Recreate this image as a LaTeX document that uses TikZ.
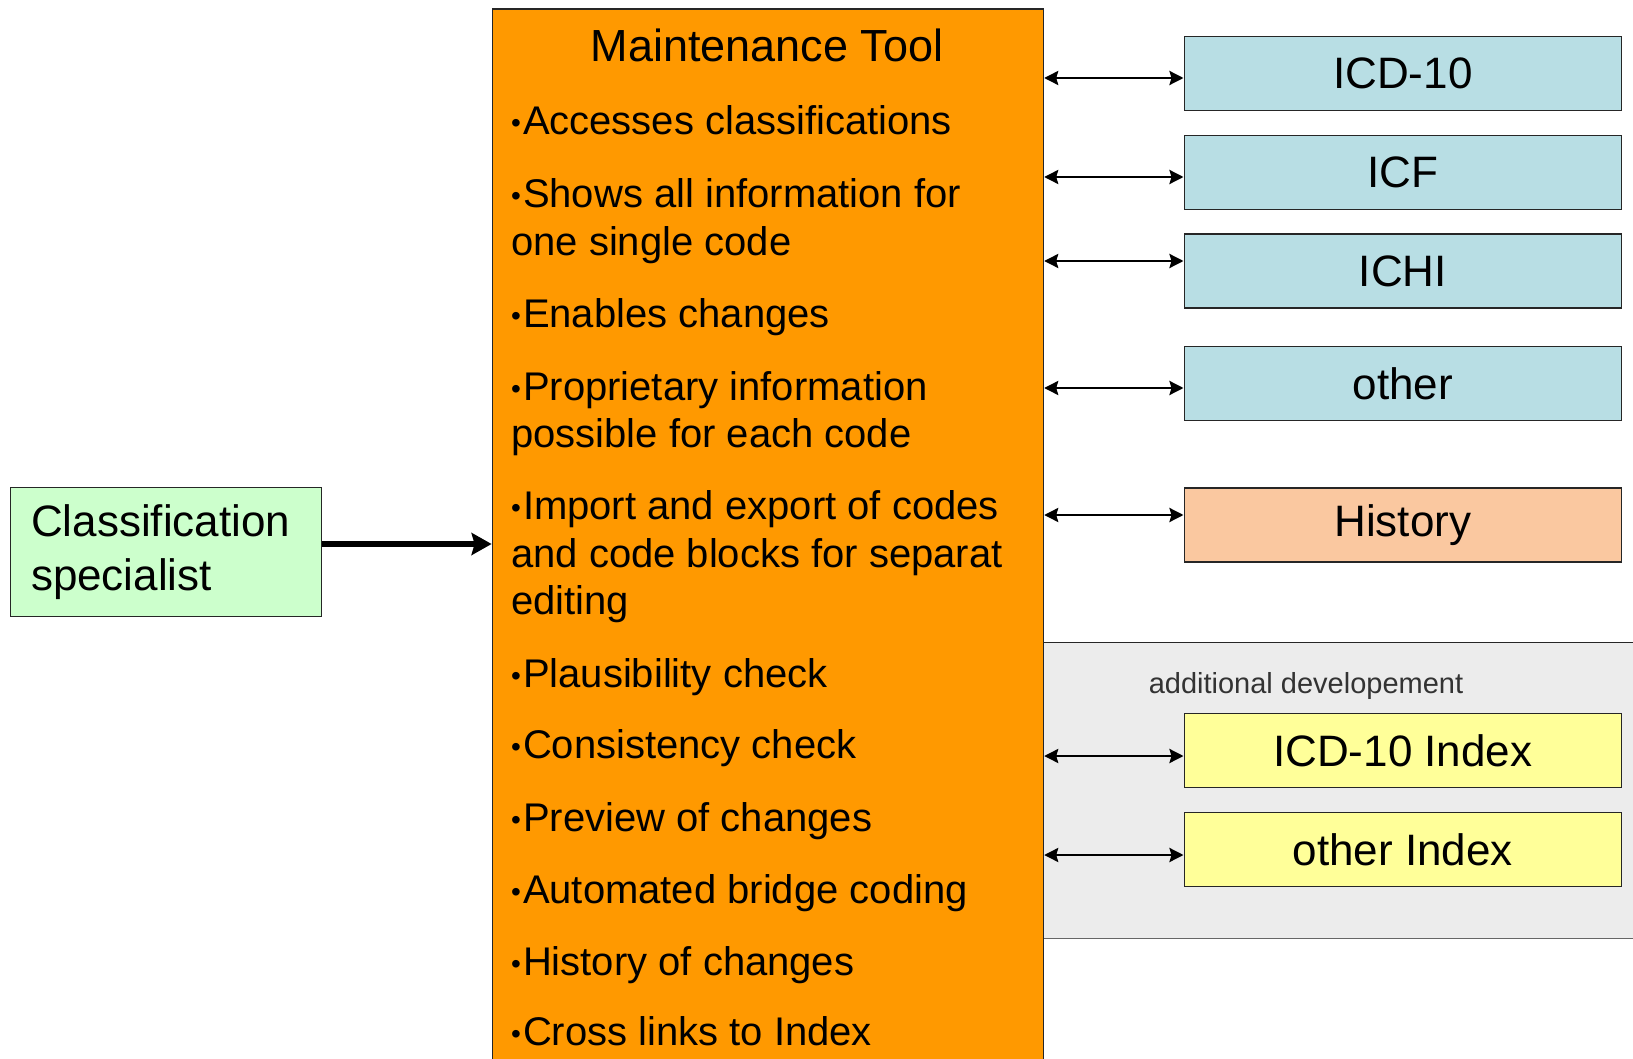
\documentclass[tikz,border=0pt]{standalone}
\usepackage{fontspec}
\setmainfont{Liberation Sans}
\usetikzlibrary{arrows.meta, positioning}
\tikzset{>={Stealth[length=14pt,width=14pt,inset=2pt]}}
\definecolor{toolorange}{RGB}{255,153,0}
\definecolor{codeblue}{RGB}{184,222,228}
\definecolor{histpeach}{RGB}{250,200,160}
\definecolor{idxyellow}{RGB}{255,255,153}
\definecolor{specgreen}{RGB}{204,255,204}
\definecolor{devgray}{RGB}{236,236,236}
\newcommand{\itemdot}{{\fontsize{28}{28}\selectfont\raisebox{2pt}{•}}\hspace{2pt}}

\begin{document}
\begin{tikzpicture}[x=1pt, y=-1pt,
  box/.style={draw=black!85, line width=1.6pt, minimum width=437pt, minimum height=74pt,
    inner sep=0pt, font=\fontsize{44}{52}\selectfont},
  item/.style={anchor=base west, inner sep=0pt, font=\fontsize{40}{47}\selectfont}]
  \useasboundingbox (0,0) rectangle (1633,1059);

  % additional development area
  \fill[devgray] (1042,642.6) rectangle (1640,938.4);
  \draw[black!85, line width=1.6pt] (1042,642.6) -- (1640,642.6);
  \draw[black!60, line width=1.6pt] (1042,938.4) -- (1640,938.4);
  \node[text=black!80, font=\fontsize{29}{34}\selectfont] (dev) at (1306,686) {additional developement};

  % maintenance tool
  \node[draw=black!85, line width=1.6pt, fill=toolorange, anchor=north west,
    minimum width=551pt, minimum height=1080pt, inner sep=0pt] (tool) at (491.6,8.3) {};
  \node[anchor=base, font=\fontsize{45}{52}\selectfont] (title) at (767,61.6) {Maintenance Tool};
  \foreach \y/\t [count=\i] in {135/{\itemdot Accesses classifications},
      208/{\itemdot Shows all information for}, 255.5/{one single code},
      327/{\itemdot Enables changes},
      400/{\itemdot Proprietary information}, 447/{possible for each code},
      519.5/{\itemdot Import and export of codes}, 567/{and code blocks for separat}, 614/{editing},
      687/{\itemdot Plausibility check}, 758/{\itemdot Consistency check}, 831/{\itemdot Preview of changes},
      903/{\itemdot Automated bridge coding}, 975/{\itemdot History of changes}, 1045.5/{\itemdot Cross links to Index}}
    \node[item] (line\i) at (511,\y) {\t};

  % specialist
  \node[draw=black!85, line width=1.6pt, fill=specgreen, minimum width=311pt, minimum height=129pt,
    text width=270pt, align=left, inner xsep=20pt, font=\fontsize{44}{54}\selectfont]
    (spec) at (166,552) {Classification\\specialist};
  \draw[-{Stealth[length=20pt,width=22pt,inset=3pt]}, line width=6pt]
    ([yshift=8pt]spec.east) -- ([yshift=8pt]spec.east -| tool.west);

  % classifications
  \foreach \n/\y/\c/\t in {icd/73.5/codeblue/ICD-10, icf/172.4/codeblue/ICF,
      ichi/271.3/codeblue/ICHI, oth/383.3/codeblue/other, hist/524.9/histpeach/History,
      icdidx/750.4/idxyellow/ICD-10 Index, othidx/849.4/idxyellow/other Index}
    \node[box, fill=\c] (\n) at (1402.8,\y) {\t};

  \foreach \n/\y in {icd/78, icf/177, ichi/261, oth/388, hist/515, icdidx/756, othidx/855}
    \draw[<->, line width=2.6pt] (tool.east |- 0,\y) -- (\n.west |- 0,\y);
\end{tikzpicture}
\end{document}
